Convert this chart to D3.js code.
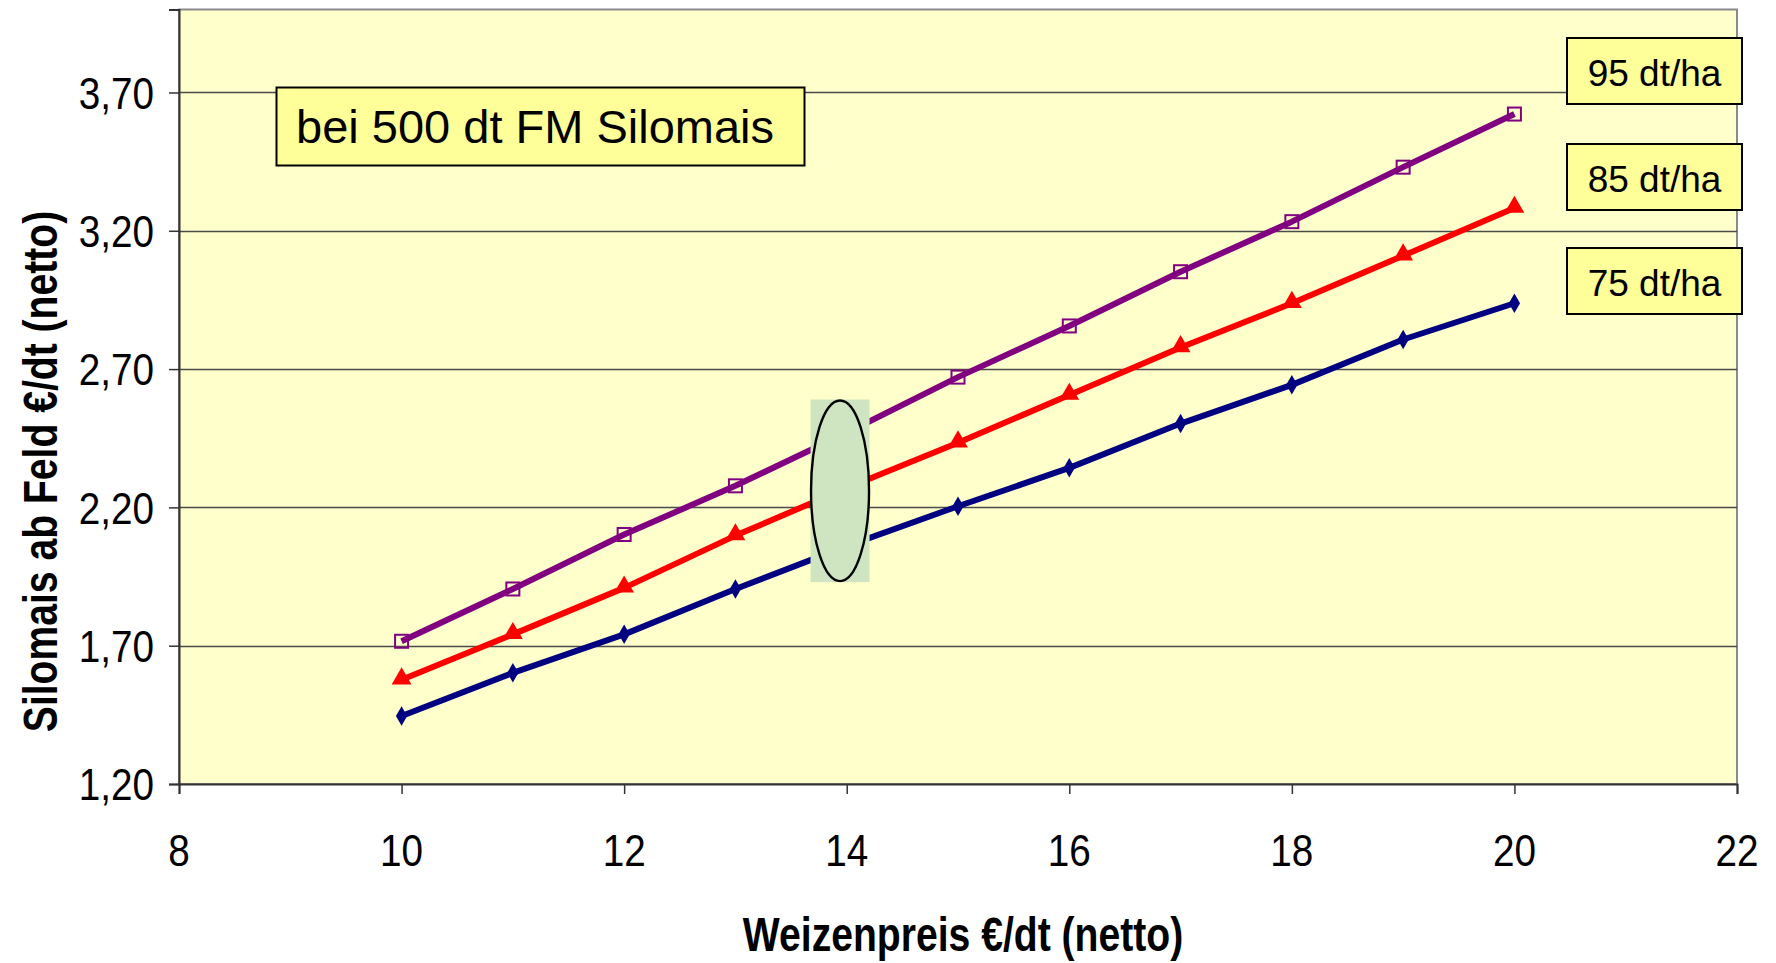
<!DOCTYPE html>
<html>
<head>
<meta charset="utf-8">
<script src="https://cdn.jsdelivr.net/npm/d3@7"></script>
<style>
  html, body { margin: 0; padding: 0; background: #ffffff; }
  svg { display: block; }
  text { font-family: "Liberation Sans", Arial, sans-serif; fill: #000; }
</style>
</head>
<body>
<svg id="chart" width="1776" height="963"></svg>
<script>
// ---- data ----
const weizenpreis = [10, 11, 12, 13, 14, 15, 16, 17, 18, 19, 20];
const ertrag75 = [1.446, 1.602, 1.741, 1.905, 2.060, 2.204, 2.343, 2.503, 2.643, 2.807, 2.938];
const ertrag85 = [1.577, 1.741, 1.909, 2.098, 2.270, 2.434, 2.606, 2.778, 2.938, 3.110, 3.282];
const ertrag95 = [1.716, 1.905, 2.102, 2.278, 2.470, 2.671, 2.856, 3.052, 3.233, 3.430, 3.622];
const seriesNames = ["75 dt/ha", "85 dt/ha", "95 dt/ha"];
const xTickValues = [8, 10, 12, 14, 16, 18, 20, 22];
const yTickValues = [1.2, 1.7, 2.2, 2.7, 3.2, 3.7];
const yTickLabels = ["1,20", "1,70", "2,20", "2,70", "3,20", "3,70"];
const xTitle = "Weizenpreis €/dt (netto)";
const yTitle = "Silomais ab Feld €/dt (netto)";
const noteText = "bei 500 dt FM Silomais";
const highlightX = 13.94;
const highlightY = [1.93, 2.59];

// ---- layout ----
const svg = d3.select("#chart");
const L = 179, R = 1737, T = 9.5, B = 784;
const x = d3.scaleLinear().domain([8, 22]).range([L, R]);
const y = d3.scaleLinear().domain([1.2, 4.0]).range([B, T]);

// plot background
svg.append("rect").attr("x", L).attr("y", T).attr("width", R - L).attr("height", B - T)
  .attr("fill", "#FFFFCC").attr("stroke", "#8a8a8a").attr("stroke-width", 2);

// gridlines
svg.append("g").selectAll("line").data(yTickValues.slice(1)).join("line")
  .attr("x1", L).attr("x2", R)
  .attr("y1", d => Math.round(y(d)) + 0.5).attr("y2", d => Math.round(y(d)) + 0.5)
  .attr("stroke", "#4a4a4a").attr("stroke-width", 1.3);

// series
const series = [
  { name: seriesNames[0], values: ertrag75, color: "#000080", symbol: "diamond" },
  { name: seriesNames[1], values: ertrag85, color: "#FF0000", symbol: "triangle" },
  { name: seriesNames[2], values: ertrag95, color: "#800080", symbol: "square" }
];
const line = d3.line().x((d, i) => x(weizenpreis[i])).y(d => y(d));
series.forEach(s => {
  svg.append("path").datum(s.values).attr("d", line)
    .attr("fill", "none").attr("stroke", s.color).attr("stroke-width", 6)
    .attr("stroke-linejoin", "round");
});
series.forEach(s => {
  const g = svg.append("g");
  s.values.forEach((v, i) => {
    const cx = x(weizenpreis[i]), cy = y(v);
    if (s.symbol === "diamond") {
      g.append("path").attr("d", d3.symbol(d3.symbolDiamond, 110)())
        .attr("transform", `translate(${cx},${cy})`).attr("fill", s.color);
    } else if (s.symbol === "triangle") {
      g.append("path").attr("d", d3.symbol(d3.symbolTriangle, 170)())
        .attr("transform", `translate(${cx},${cy - 1})`).attr("fill", s.color);
    } else {
      g.append("rect").attr("x", cx - 6.5).attr("y", cy - 6.5).attr("width", 13).attr("height", 13)
        .attr("fill", "none").attr("stroke", s.color).attr("stroke-width", 2);
    }
  });
});

// highlight (green rect + ellipse)
const hx = x(highlightX);
const hy0 = y(highlightY[1]), hy1 = y(highlightY[0]);
svg.append("rect").attr("x", hx - 29.5).attr("y", hy0).attr("width", 59).attr("height", hy1 - hy0)
  .attr("fill", "#CFE5C1");
svg.append("ellipse").attr("cx", hx).attr("cy", (hy0 + hy1) / 2)
  .attr("rx", 29).attr("ry", (hy1 - hy0) / 2 - 1)
  .attr("fill", "#CFE5C1").attr("stroke", "#000").attr("stroke-width", 2.4);

// axes
const xAxis = svg.append("g").attr("transform", `translate(0,${B})`)
  .call(d3.axisBottom(x).tickValues(xTickValues).tickSize(10).tickFormat(""));
xAxis.select(".domain").attr("stroke", "#333").attr("stroke-width", 2);
xAxis.selectAll(".tick line").attr("stroke", "#333").attr("stroke-width", 1.5);

const yAxis = svg.append("g").attr("transform", `translate(${L},0)`)
  .call(d3.axisLeft(y).tickValues(yTickValues).tickSize(10).tickFormat(""));
yAxis.select(".domain").attr("stroke", "#333").attr("stroke-width", 2);
yAxis.selectAll(".tick line").attr("stroke", "#333").attr("stroke-width", 1.5);

// tick labels (condensed like the original)
svg.append("g").selectAll("g").data(xTickValues).join("g")
  .attr("transform", d => `translate(${x(d)},866) scale(0.86,1)`)
  .append("text").attr("text-anchor", "middle").style("font-size", "45px").text(d => d);

svg.append("g").selectAll("g").data(yTickValues).join("g")
  .attr("transform", d => `translate(154,${y(d)}) scale(0.86,1)`)
  .append("text").attr("text-anchor", "end").attr("dy", "0.36em").style("font-size", "45px")
  .text((d, i) => yTickLabels[i]);

// axis titles
svg.append("text").attr("transform", "translate(963,951) scale(0.815,1)")
  .attr("text-anchor", "middle").style("font-size", "48px").style("font-weight", "bold")
  .text(xTitle);
svg.append("text").attr("transform", "translate(57,471.5) rotate(-90) scale(0.815,1)")
  .attr("text-anchor", "middle").style("font-size", "48px").style("font-weight", "bold")
  .text(yTitle);

// note box
svg.append("rect").attr("x", 276.5).attr("y", 87.5).attr("width", 528).attr("height", 78)
  .attr("fill", "#FFFF99").attr("stroke", "#000").attr("stroke-width", 2);
svg.append("text").attr("x", 296).attr("y", 143).style("font-size", "47px").text(noteText);

// series label boxes
const labelBoxes = [
  { text: seriesNames[2], top: 38 },
  { text: seriesNames[1], top: 144 },
  { text: seriesNames[0], top: 248 }
];
labelBoxes.forEach(b => {
  svg.append("rect").attr("x", 1567).attr("y", b.top).attr("width", 175).attr("height", 66)
    .attr("fill", "#FFFF99").attr("stroke", "#000").attr("stroke-width", 2);
  svg.append("text").attr("x", 1654.5).attr("y", b.top + 47.5).attr("text-anchor", "middle")
    .style("font-size", "37px").text(b.text);
});
</script>
</body>
</html>
